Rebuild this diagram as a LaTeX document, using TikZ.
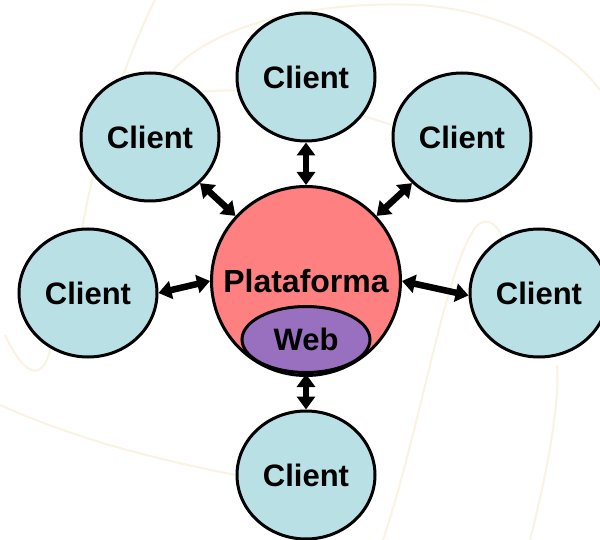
\documentclass[tikz,border=0pt]{standalone}
\usepackage{fontspec}
\setmainfont{Liberation Sans}
\usetikzlibrary{shapes.geometric,arrows.meta}
\definecolor{clientfill}{RGB}{185,224,228}
\definecolor{platfill}{RGB}{255,128,128}
\definecolor{webfill}{RGB}{153,112,192}
\definecolor{bgline}{RGB}{250,243,228}
\tikzset{
  client/.style={ellipse, draw=black, line width=3pt, fill=clientfill,
    minimum width=138pt, minimum height=128pt, inner sep=0pt,
    font=\fontsize{31}{31}\selectfont\bfseries},
  plat/.style={circle, draw=black, line width=3pt, fill=platfill,
    minimum size=189pt, inner sep=0pt,
    font=\fontsize{32}{32}\selectfont\bfseries},
  webnode/.style={ellipse, draw=black, line width=3pt, fill=webfill,
    minimum width=128pt, minimum height=66pt, inner sep=0pt,
    font=\fontsize{31}{31}\selectfont\bfseries},
  link/.style={line width=6.5pt, {Triangle[length=13pt,width=18pt]}-{Triangle[length=13pt,width=18pt]}},
  bgcurve/.style={draw=bgline, line width=2pt}
}
\begin{document}
\begin{tikzpicture}[x=1pt,y=-1pt]
\useasboundingbox (0,0) rectangle (600,540);
\fill[white] (0,0) rectangle (600,540);
% faint background swirls
\draw[bgcurve] (0,405) .. controls (90,445) and (170,462) .. (260,480);
\draw[bgcurve] (155,0) .. controls (125,60) and (95,150) .. (80,240);
\draw[bgcurve] (5,335) .. controls (25,378) and (45,385) .. (52,340);
\draw[bgcurve] (165,80) .. controls (200,30) and (300,0) .. (420,5) .. controls (510,12) and (570,50) .. (600,90);
\draw[bgcurve] (180,95) .. controls (260,80) and (330,105) .. (392,125);
\draw[bgcurve] (383,540) .. controls (420,430) and (445,270) .. (475,228) .. controls (485,216) and (495,222) .. (502,236);
\draw[bgcurve] (530,540) .. controls (548,470) and (560,400) .. (557,365);
% nodes
\node[client] (T)  at (306,77)  {Client};
\node[client] (UL) at (150,137) {Client};
\node[client] (UR) at (462,137) {Client};
\node[client] (L)  at (88,293)  {Client};
\node[client] (R)  at (539,293) {Client};
\node[client] (B)  at (306,475) {Client};
\node[plat]   (P)  at (306,281) {Plataforma};
\node[webnode] (W) at (306,339.5) {\raisebox{-1.5pt}{Web}};
% connectors
\draw[link] (T.south) -- (P.north);
\draw[link] (UL) -- (P);
\draw[link] (UR) -- (P);
\draw[link] (L.east) -- (P.west);
\draw[link] (P.east) -- (R.182);
\draw[link] (W.south) -- (B.north);
\end{tikzpicture}
\end{document}
